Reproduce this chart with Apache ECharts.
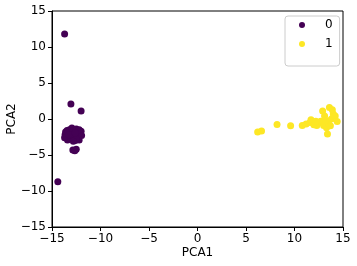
<!DOCTYPE html>
<html><head><meta charset="utf-8">
<script src="https://cdn.jsdelivr.net/npm/echarts@6/dist/echarts.min.js"></script>
<style>html,body{margin:0;padding:0;background:#fff}#c{width:357px;height:266px}</style>
</head><body><div id="c"></div>
<script>
const seriesNames = ['0', '1'];
const colors = ['#440154', '#fde725'];
const class0 = [
  [-13.7, 11.8], [-13.05, 2.1], [-12.0, 1.1], [-14.4, -8.7],
  [-13.65, -2.2], [-13.6, -1.8], [-13.55, -2.5], [-13.45, -1.6], [-13.4, -2.0], [-13.3, -2.7],
  [-13.2, -1.5], [-13.1, -2.3], [-13.0, -1.9], [-12.95, -1.25], [-12.9, -2.6], [-12.8, -1.6],
  [-12.7, -2.2], [-12.6, -3.0], [-12.5, -1.4], [-12.4, -2.5], [-12.3, -1.8], [-12.2, -2.9],
  [-12.1, -2.0], [-12.0, -1.7], [-11.95, -2.3], [-12.5, -2.8], [-12.8, -3.1], [-13.4, -2.9],
  [-13.7, -2.6], [-12.85, -4.3], [-12.5, -4.2], [-12.65, -4.4], [-13.25, -2.2], [-12.2, -1.5],
  [-12.6, -1.9]
];
const class1 = [
  [6.2, -1.8], [6.6, -1.65], [8.2, -0.75], [9.6, -0.95], [10.8, -0.9], [11.2, -0.7],
  [11.6, -0.5], [11.7, -0.1], [12.0, -0.8], [12.3, -0.9], [12.5, -0.5], [12.7, -0.3],
  [12.9, 1.1], [13.0, -0.9], [13.1, 0.4], [13.3, -1.2], [13.4, -2.1], [13.5, -0.6],
  [13.6, 1.6], [13.7, -0.95], [13.8, 0.0], [14.0, 0.7], [14.2, 0.4], [14.4, -0.35],
  [13.2, -0.2], [12.2, -0.3], [13.9, 1.3]
];
const ticks = [-15, -10, -5, 0, 5, 10, 15];
const xName = 'PCA1', yName = 'PCA2';

const font = 'DejaVu Sans';
const fmt = v => String(v).replace('-', '\u2212');
const axisCommon = {
  min: ticks[0], max: ticks[ticks.length - 1], interval: 5,
  splitLine: { show: false },
  axisLine: { show: true, onZero: false, lineStyle: { color: '#000', width: 1 } },
  axisTick: { show: true, length: 4, inside: false, lineStyle: { color: '#000' } },
  axisLabel: { color: '#000', fontFamily: font, fontSize: 12, formatter: fmt },
  nameLocation: 'middle',
  nameMoveOverlap: false,
  nameTextStyle: { color: '#000', fontFamily: font, fontSize: 12 }
};
const chart = echarts.init(document.getElementById('c'), null, { renderer: 'canvas' });
chart.setOption({
  animation: false,
  backgroundColor: '#fff',
  grid: { left: 52, right: 14, top: 11, bottom: 39, show: true, borderColor: '#000', borderWidth: 1,
    containLabel: false, outerBoundsMode: 'none' },
  xAxis: Object.assign({}, axisCommon, { type: 'value', name: xName, nameGap: 20,
    axisLabel: Object.assign({}, axisCommon.axisLabel, { margin: 6 }) }),
  yAxis: Object.assign({}, axisCommon, { type: 'value', name: yName, nameGap: 34,
    axisLabel: Object.assign({}, axisCommon.axisLabel, { margin: 6 }) }),
  legend: {
    orient: 'vertical', left: 285, top: 16, icon: 'circle', itemWidth: 6, itemHeight: 6,
    itemGap: 7, padding: [3, 7, 16, 14], borderColor: '#ccc', borderWidth: 1, borderRadius: 3,
    textStyle: { color: '#000', fontFamily: font, fontSize: 12, lineHeight: 12, padding: [0, 0, 0, 15] },
    data: seriesNames
  },
  series: [
    { name: seriesNames[0], type: 'scatter', data: class0, symbolSize: 7, itemStyle: { color: colors[0], opacity: 1 } },
    { name: seriesNames[1], type: 'scatter', data: class1, symbolSize: 7, itemStyle: { color: colors[1], opacity: 1 } }
  ]
});
</script></body></html>
